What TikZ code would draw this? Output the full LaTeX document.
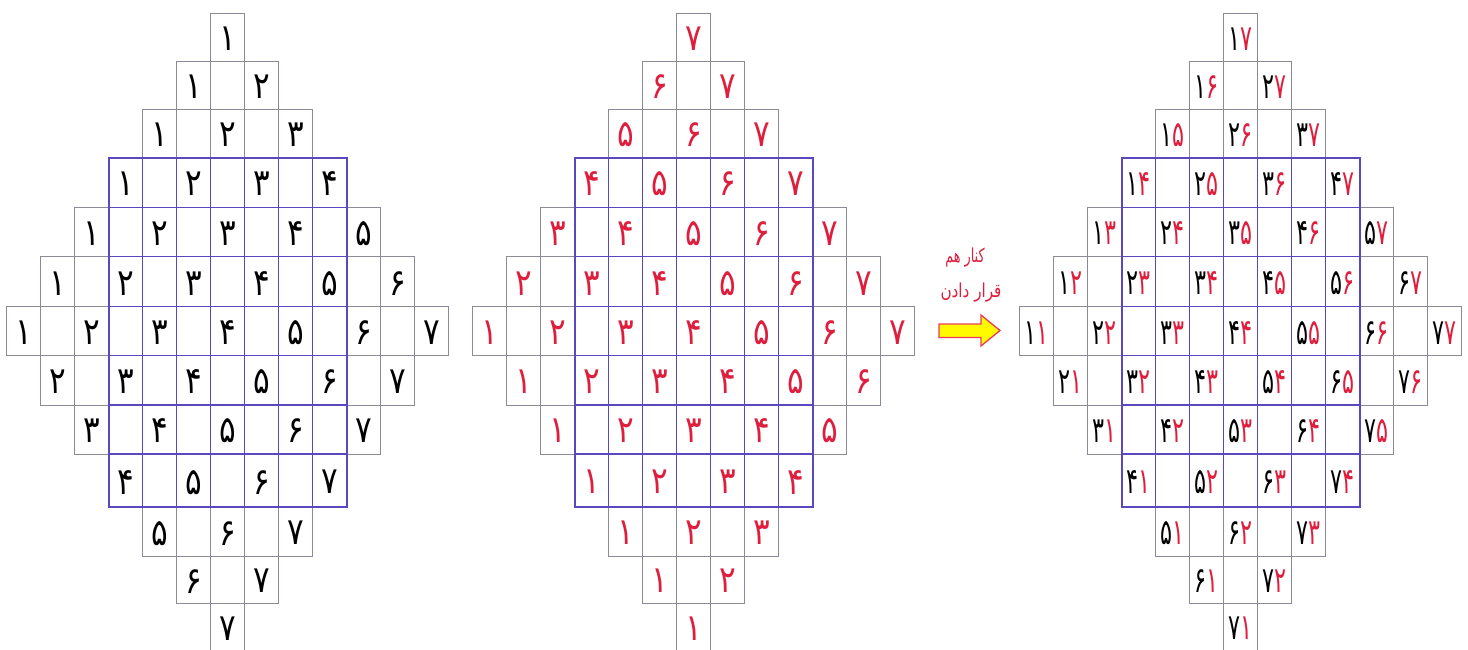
\documentclass[tikz,border=0pt]{standalone}
\usepackage{fontspec}
\usepackage{graphicx}
\newfontfamily\fa[Script=Arabic]{DejaVu Sans}
\TeXXeTstate=1
\definecolor{gridgray}{RGB}{140,138,150}
\definecolor{gridblue}{RGB}{90,72,192}
\definecolor{numred}{RGB}{222,30,60}
\definecolor{arrowfill}{RGB}{255,250,0}
\definecolor{arrowline}{RGB}{232,60,90}
\newcommand\pd[1]{\ifcase#1 ۰\or ۱\or ۲\or ۳\or ۴\or ۵\or ۶\or ۷\fi}
\def\rowy{{13.3,61.7,109.3,157.7,207.3,256.7,306.7,355.7,405,454,507.3,556,603.3,651}}
\tikzset{
  cellline/.style={draw=gridgray,line width=1pt},
  blueline/.style={draw=gridblue,line width=1.4pt},
  bluebox/.style={draw=gridblue,line width=2pt},
  digit/.style={inner sep=0pt,font=\fa\fontsize{31}{31}\selectfont},
  caption/.style={inner sep=0pt,text=numred,font=\fa\fontsize{16}{16}\selectfont},
  bigarrow/.style={fill=arrowfill,draw=arrowline,line width=1.3pt,line join=miter}
}
\begin{document}
\begin{tikzpicture}[x=1pt,y=-1pt]
\useasboundingbox (0,0) rectangle (1468,650);
\fill[white] (0,0) rectangle (1468,650);
% cells
\foreach \g/\cx in {0/227.5,1/693.5,2/1240.5}{
  \foreach \r in {0,...,12}{
    \pgfmathtruncatemacro\n{7-abs(\r-6)}
    \pgfmathtruncatemacro\lastj{2*\n-2}
    \pgfmathtruncatemacro\rr{\r+1}
    \pgfmathsetmacro\ya{\rowy[\r]}
    \pgfmathsetmacro\yb{\rowy[\rr]}
    \foreach \j in {0,...,\lastj}{
      \pgfmathsetmacro\xa{\cx+(\j-\n+1)*34-17}
      \draw[cellline] (\xa,\ya) rectangle (\xa+34,\yb);
    }
  }
  % blue central block
  \foreach \i in {1,...,6}{
    \draw[blueline] (\cx-119+34*\i,157.7) -- (\cx-119+34*\i,507.3);
  }
  \foreach \i in {4,...,9}{
    \pgfmathsetmacro\yy{\rowy[\i]}
    \draw[blueline] (\cx-119,\yy) -- (\cx+119,\yy);
  }
  \draw[bluebox] (\cx-119,157.7) rectangle (\cx+119,507.3);
  % numbers
  \foreach \r in {0,...,12}{
    \pgfmathtruncatemacro\n{7-abs(\r-6)}
    \pgfmathtruncatemacro\lastk{\n-1}
    \pgfmathtruncatemacro\rr{\r+1}
    \pgfmathsetmacro\ya{\rowy[\r]}
    \pgfmathsetmacro\yb{\rowy[\rr]}
    \pgfmathsetmacro\yc{(\ya+\yb)/2+1.5}
    \foreach \k in {0,...,\lastk}{
      \pgfmathtruncatemacro\p{max(0,\r-6)+\k+1}
      \pgfmathtruncatemacro\q{max(0,6-\r)+\k+1}
      \pgfmathsetmacro\xc{\cx+(2*\k-\n+1)*34}
      \node[digit] (n\g-\r-\k) at (\xc,\yc)
        {\ifcase\g\relax \scalebox{1}[1.2]{\pd\p}\or \scalebox{1}[1.2]{\textcolor{numred}{\pd\q}}\or \scalebox{0.72}[1.15]{\pd\p\textcolor{numred}{\pd\q}}\fi};
    }
  }
}
% caption and arrow
\node[caption] (cap1) at (965,258) {\scalebox{0.8}[1.2]{\beginR کنار هم\endR}};
\node[caption] (cap2) at (971,293) {\scalebox{0.95}[1.2]{\beginR قرار دادن\endR}};
\draw[bigarrow] (939,324) -- (981,324) -- (981,315) -- (1000,330.5) -- (981,346) -- (981,337.5) -- (939,337.5) -- cycle;
\end{tikzpicture}
\end{document}
